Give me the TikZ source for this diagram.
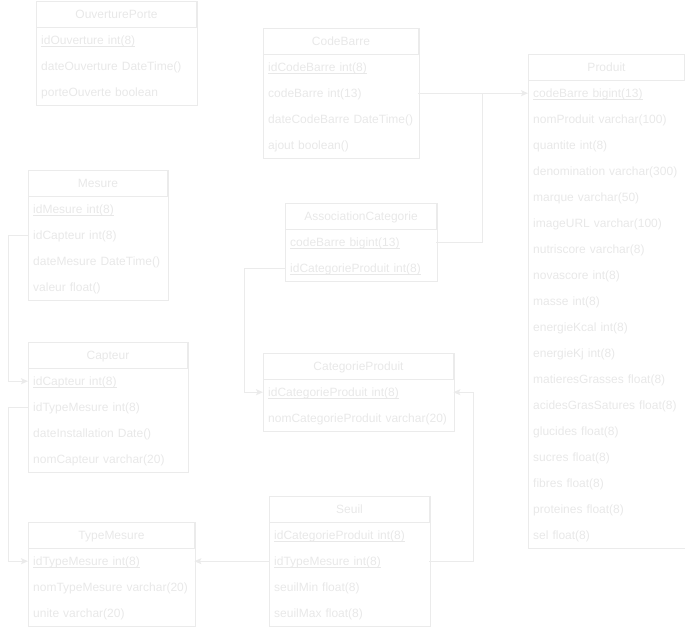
\documentclass[tikz,border=0pt]{standalone}
\usepackage{fontspec}
\setmainfont{Liberation Sans}
\usetikzlibrary{arrows.meta,fit}
\definecolor{linec}{HTML}{EBEBEB}
\definecolor{textc}{HTML}{E8E8E8}
\newcommand\pkey[1]{\setbox0\hbox{#1}\rlap{\vrule width\wd0 height -1.3pt depth 2.3pt}\box0}
\tikzset{
  hdr/.style={draw=linec, line width=1pt, minimum height=26pt, inner sep=0pt, text height=9.5pt, text depth=1pt, text=textc, font=\fontsize{12}{14}\selectfont},
  rowbox/.style={minimum height=26pt, inner xsep=5pt, inner ysep=0pt, text height=10pt, text depth=1pt, align=left, text=textc, font=\fontsize{12}{14}\selectfont, anchor=north west},
  frameline/.style={draw=linec, line width=1pt, inner sep=0pt},
  conn/.style={draw=linec, line width=1pt, -{Stealth[length=7pt,width=6pt,inset=1.5pt]}},
  connplain/.style={draw=linec, line width=1pt}
}
% name, x, y, width, title, rows, nrows
\newcommand\dbtable[7]{%
  \node[hdr, minimum width=#4pt, anchor=north west] (#1) at (#2,#3) {#5};
  \foreach \r [count=\i] in {#6} {
    \node[rowbox, text width=#4pt-10pt] (#1-\i) at (#2,{#3+26*\i}) {\r};
  }
  \node[frameline, fit=(#1)(#1-#7)] (#1-frame) {};
}
\begin{document}
\begin{tikzpicture}[x=1pt,y=-1pt]
\useasboundingbox (0,0) rectangle (685,630);
\dbtable{op}{36}{1}{160}{OuverturePorte}{{\pkey{idOuverture int(8)}},{dateOuverture DateTime()},{porteOuverte boolean}}{3}
\dbtable{cb}{263}{28}{155}{CodeBarre}{{\pkey{idCodeBarre int(8)}},{codeBarre int(13)},{dateCodeBarre DateTime()},{ajout boolean()}}{4}
\dbtable{pr}{528}{54}{156}{Produit}{{\pkey{codeBarre bigint(13)}},{nomProduit varchar(100)},{quantite int(8)},{denomination varchar(300)},{marque varchar(50)},{imageURL varchar(100)},{nutriscore varchar(8)},{novascore int(8)},{masse int(8)},{energieKcal int(8)},{energieKj int(8)},{matieresGrasses float(8)},{acidesGrasSatures float(8)},{glucides float(8)},{sucres float(8)},{fibres float(8)},{proteines float(8)},{sel float(8)}}{18}
\dbtable{me}{28}{170}{139}{Mesure}{{\pkey{idMesure int(8)}},{idCapteur int(8)},{dateMesure DateTime()},{valeur float()}}{4}
\dbtable{ac}{285}{203}{151}{AssociationCategorie}{{\pkey{codeBarre bigint(13)}},{\pkey{idCategorieProduit int(8)}}}{2}
\dbtable{ca}{28}{342}{159}{Capteur}{{\pkey{idCapteur int(8)}},{idTypeMesure int(8)},{dateInstallation Date()},{nomCapteur varchar(20)}}{4}
\dbtable{cp}{263}{353}{190}{CategorieProduit}{{\pkey{idCategorieProduit int(8)}},{nomCategorieProduit varchar(20)}}{2}
\dbtable{se}{269}{496}{160}{Seuil}{{\pkey{idCategorieProduit int(8)}},{\pkey{idTypeMesure int(8)}},{seuilMin float(8)},{seuilMax float(8)}}{4}
\dbtable{tm}{28}{522}{166}{TypeMesure}{{\pkey{idTypeMesure int(8)}},{nomTypeMesure varchar(20)},{unite varchar(20)}}{3}
% connectors
\draw[conn] (cb-2.east) -- (pr-1.west);
\path (pr-1.west) ++(-46,0) coordinate (j1);
\draw[connplain] (ac-1.east) -| (j1);
\draw[conn] (ac-2.west) -- ++(-41,0) |- (cp-1.west);
\draw[conn] (se-2.east) -- ++(44,0) |- (cp-1.east);
\draw[conn] (se-2.west) -- (tm-1.east);
\draw[conn] (me-2.west) -- ++(-20,0) |- (ca-1.west);
\draw[conn] (ca-2.west) -- ++(-20,0) |- (tm-1.west);
\end{tikzpicture}
\end{document}
